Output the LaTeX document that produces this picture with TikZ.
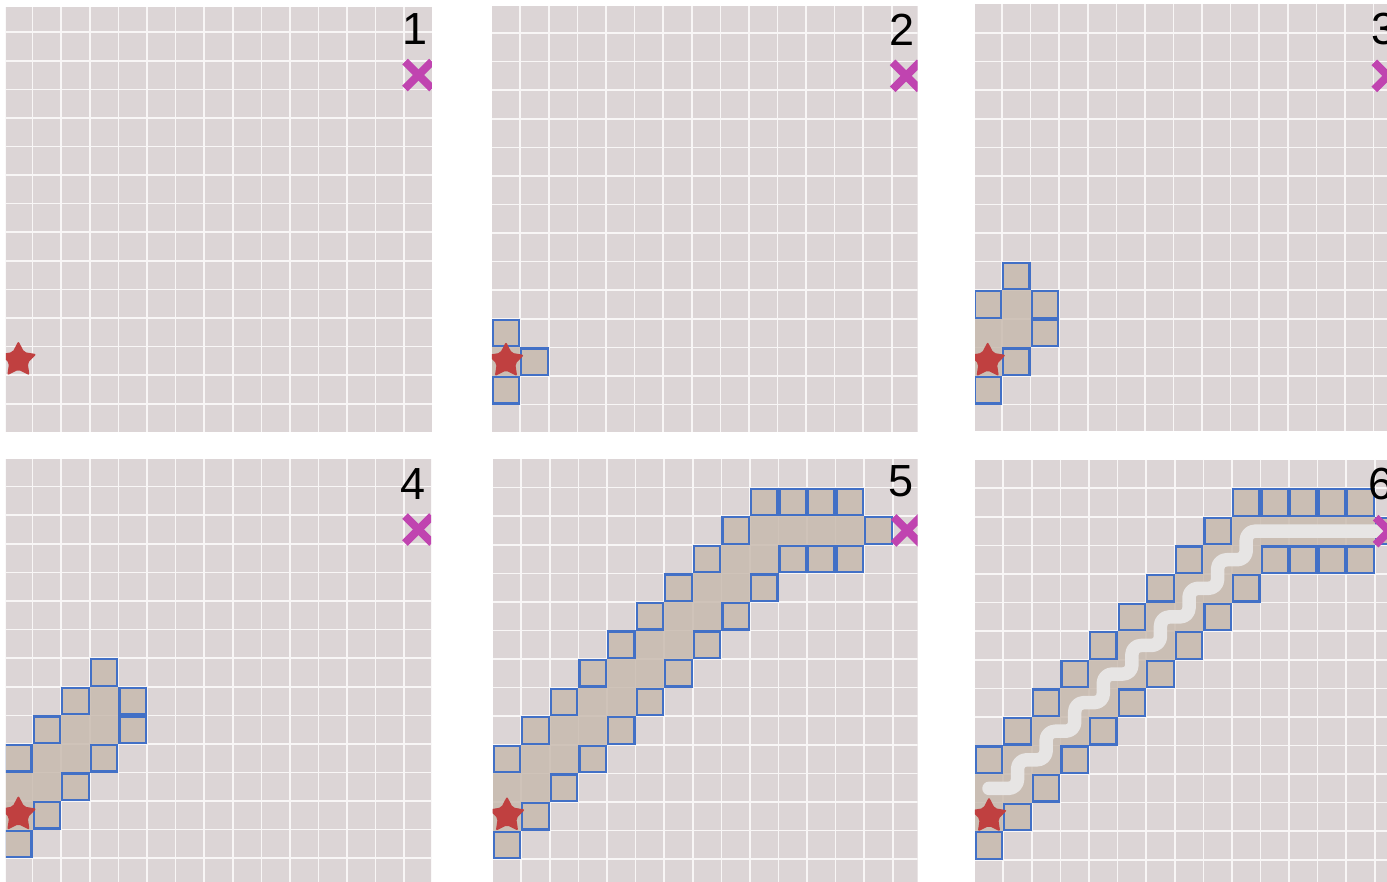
\documentclass[tikz,border=0pt]{standalone}
\usepackage{fontspec}
\setmainfont{Liberation Sans}
\definecolor{panelbg}{RGB}{220,213,214}
\definecolor{gridwhite}{RGB}{248,246,246}
\definecolor{tanfill}{RGB}{200,187,175}
\definecolor{frontblue}{RGB}{66,112,198}
\definecolor{starred}{RGB}{192,64,64}
\definecolor{goalmag}{RGB}{192,68,176}
\definecolor{pathgrey}{RGB}{231,229,228}
\tikzset{
  gridline/.style={draw=gridwhite, line width=1.6pt},
  closedcell/.style={fill=tanfill, fill opacity=0.85},
  frontline/.style={draw=frontblue, line width=2.2pt},
  solpath/.style={draw=pathgrey, line width=13.5pt, line cap=round, line join=round, rounded corners=9pt},
  goalx/.style={draw=goalmag, line width=8pt},
  startstar/.style={fill=starred, rounded corners=2pt},
  panellabel/.style={font=\fontsize{45}{54}\selectfont, inner sep=0pt, anchor=base west, text=black},
  panelscope/.style={x=28.58pt, y=-28.58pt},
}
% #1 left, #2 top, #3 right, #4 bottom of the visible panel, in cells
\newcommand\panelbase[4]{%
  \clip (#1,#2) rectangle (#3,#4);
  \fill[panelbg] (0,0) rectangle (15,15);
  \foreach \k in {1,...,14} {\draw[gridline] (\k,0) -- (\k,15); \draw[gridline] (0,\k) -- (15,\k);}
}
\newcommand\panelmarks{%
  \begin{scope}[shift={(0.5,12.47)}]
    \fill[startstar] (90:19pt) -- (126:9.8pt) -- (162:19pt) -- (198:9.8pt) -- (234:19pt) -- (270:9.8pt) -- (306:19pt) -- (342:9.8pt) -- (18:19pt) -- (54:9.8pt) -- cycle;
  \end{scope}
  \begin{scope}[shift={(14.5,2.5)}]
    \draw[goalx] (-13.5pt,-13.5pt) -- (13.5pt,13.5pt);
    \draw[goalx] (-13.5pt,13.5pt) -- (13.5pt,-13.5pt);
  \end{scope}
}
\newcommand\closedcells[1]{\foreach \c/\r in {#1} {\fill[closedcell] (\c,\r) rectangle ++(1,1);}}
\newcommand\frontcells[1]{%
  \foreach \c/\r in {#1} {\fill[closedcell] (\c,\r) rectangle ++(1,1);}
  \foreach \c/\r in {#1} {\draw[frontline] (\c+0.038,\r+0.038) rectangle (\c+0.962,\r+0.962);}
}
\begin{document}
\begin{tikzpicture}[x=1pt, y=-1pt]
\useasboundingbox (0,0) rectangle (1387,881);
\clip (0,0) rectangle (1387,881);
\fill[white] (0,0) rectangle (1387,881);

% Panel 1
\begin{scope}[shift={(4.1,3.6)}, panelscope]
  \begin{scope}
    \panelbase{0.066}{0.12}{14.97}{14.99}
    \panelmarks
  \end{scope}
\end{scope}
\node[panellabel] (lab1) at (401.8,44) {1};

% Panel 2
\begin{scope}[shift={(491.7,4.4)}, panelscope]
  \begin{scope}
    \panelbase{0.01}{0.09}{14.905}{14.96}
    \closedcells{0/12}
    \frontcells{0/11,1/12,0/13}
    \panelmarks
  \end{scope}
\end{scope}
\node[panellabel] (lab2) at (889.7,45) {2};

% Panel 3
\begin{scope}[shift={(973.4,4.4)}, panelscope]
  \begin{scope}
    \panelbase{0.056}{0.02}{15}{14.92}
    \closedcells{0/12,0/11,1/11,1/10}
    \frontcells{1/9,0/10,2/10,2/11,1/12,0/13}
    \panelmarks
  \end{scope}
\end{scope}
\node[panellabel] (lab3) at (1371,44.5) {3};

% Panel 4
\begin{scope}[shift={(4.1,458.1)}, panelscope]
  \begin{scope}
    \panelbase{0.066}{0.066}{14.94}{15}
    \closedcells{0/12,0/11,1/11,1/10,2/10,2/9,3/9,3/8}
    \frontcells{3/7,2/8,4/8,1/9,4/9,0/10,3/10,2/11,1/12,0/13}
    \panelmarks
  \end{scope}
\end{scope}
\node[panellabel] (lab4) at (400.5,499) {4};

% Panel 5
\begin{scope}[shift={(492.7,459)}, panelscope]
  \begin{scope}
    \panelbase{0}{0}{14.87}{15}
    \closedcells{9/2,10/2,11/2,12/2,8/3,9/3,7/4,8/4,6/5,7/5,5/6,6/6,4/7,5/7,3/8,4/8,2/9,3/9,1/10,2/10,0/11,1/11,0/12}
    \frontcells{9/1,10/1,11/1,12/1,8/2,13/2,7/3,10/3,11/3,12/3,6/4,9/4,5/5,8/5,4/6,7/6,3/7,6/7,2/8,5/8,1/9,4/9,0/10,3/10,2/11,1/12,0/13}
    \panelmarks
  \end{scope}
\end{scope}
\node[panellabel] (lab5) at (888,496) {5};

% Panel 6
\begin{scope}[shift={(974.7,459.7)}, panelscope]
  \begin{scope}
    \panelbase{0.01}{0.01}{15}{15}
    \closedcells{9/2,10/2,11/2,12/2,13/2,8/3,9/3,7/4,8/4,6/5,7/5,5/6,6/6,4/7,5/7,3/8,4/8,2/9,3/9,1/10,2/10,0/11,1/11,0/12}
    \frontcells{9/1,10/1,11/1,12/1,13/1,8/2,14/2,7/3,10/3,11/3,12/3,13/3,6/4,9/4,5/5,8/5,4/6,7/6,3/7,6/7,2/8,5/8,1/9,4/9,0/10,3/10,2/11,1/12,0/13}
    \draw[solpath] (0.5,11.5) -- (1.5,11.5) -- (1.5,10.5) -- (2.5,10.5) -- (2.5,9.5) -- (3.5,9.5) -- (3.5,8.5) -- (4.5,8.5) -- (4.5,7.5) -- (5.5,7.5) -- (5.5,6.5) -- (6.5,6.5) -- (6.5,5.5) -- (7.5,5.5) -- (7.5,4.5) -- (8.5,4.5) -- (8.5,3.5) -- (9.5,3.5) -- (9.5,2.5) -- (14.5,2.5);
    \panelmarks
  \end{scope}
\end{scope}
\node[panellabel] (lab6) at (1368.3,499.5) {6};
\end{tikzpicture}
\end{document}
